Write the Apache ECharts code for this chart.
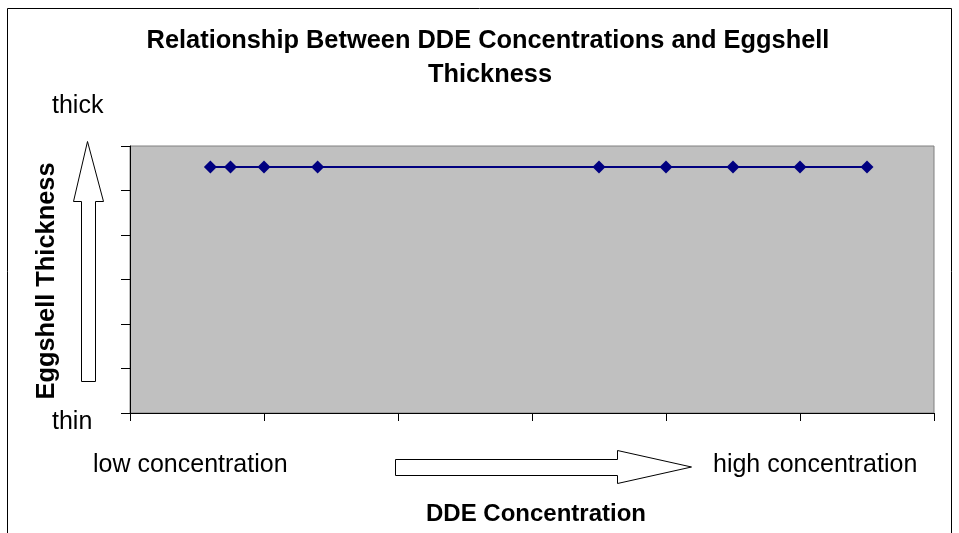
<!DOCTYPE html>
<html>
<head>
<meta charset="utf-8">
<script src="https://cdn.jsdelivr.net/npm/echarts@6/dist/echarts.min.js"></script>
<style>
html,body{margin:0;padding:0;background:#fff;}
#chart{width:959px;height:533px;}
</style>
</head>
<body>
<div id="chart"></div>
<script>
// Data
const concentration = [0.6, 0.75, 1, 1.4, 3.5, 4, 4.5, 5, 5.5];
const thickness = [5.53, 5.53, 5.53, 5.53, 5.53, 5.53, 5.53, 5.53, 5.53];
const titleLines = ['Relationship Between DDE Concentrations and Eggshell', 'Thickness'];
const yAxisName = 'Eggshell Thickness';
const xAxisName = 'DDE Concentration';
const yEndLabels = ['thick', 'thin'];
const xEndLabels = ['low concentration', 'high concentration'];

const FONT = "'Liberation Sans', Arial, sans-serif";
const chart = echarts.init(document.getElementById('chart'));

const pts = concentration.map((x, i) => [x, thickness[i]]);

chart.setOption({
  animation: false,
  backgroundColor: '#ffffff',
  grid: {
    left: 130, top: 146, width: 804, height: 267,
    show: true, backgroundColor: '#c0c0c0', borderColor: '#808080', borderWidth: 1
  },
  xAxis: {
    type: 'value', min: 0, max: 6, interval: 1,
    axisLine: { show: true, onZero: false, lineStyle: { color: '#000', width: 1 } },
    axisTick: { show: true, inside: false, length: 8, lineStyle: { color: '#000' } },
    axisLabel: { show: false },
    splitLine: { show: false }
  },
  yAxis: {
    type: 'value', min: 0, max: 6, interval: 1,
    axisLine: { show: true, onZero: false, lineStyle: { color: '#000', width: 1 } },
    axisTick: { show: true, inside: false, length: 9, lineStyle: { color: '#000' } },
    axisLabel: { show: false },
    splitLine: { show: false }
  },
  series: [{
    type: 'line',
    data: pts,
    symbol: 'diamond',
    symbolSize: 13,
    lineStyle: { color: '#000080', width: 2 },
    itemStyle: { color: '#000080' }
  }],
  graphic: [
    // outer frame
    { type: 'polyline', shape: { points: [[7.5, 540], [7.5, 8.5], [951.5, 8.5], [951.5, 540]] },
      style: { stroke: '#000', lineWidth: 1, fill: null } },
    { type: 'text', x: 488, y: 41, style: { text: titleLines[0], font: "bold 25.4px " + FONT, fill: '#000', align: 'center', verticalAlign: 'middle' } },
    { type: 'text', x: 490, y: 75, style: { text: titleLines[1], font: "bold 25.4px " + FONT, fill: '#000', align: 'center', verticalAlign: 'middle' } },
    { type: 'text', x: 52, y: 106, style: { text: yEndLabels[0], font: "25px " + FONT, fill: '#000', align: 'left', verticalAlign: 'middle' } },
    { type: 'text', x: 52, y: 422, style: { text: yEndLabels[1], font: "25px " + FONT, fill: '#000', align: 'left', verticalAlign: 'middle' } },
    { type: 'text', x: 47, y: 281, rotation: Math.PI / 2, style: { text: yAxisName, font: "bold 25.4px " + FONT, fill: '#000', align: 'center', verticalAlign: 'middle' } },
    { type: 'text', x: 93, y: 465, style: { text: xEndLabels[0], font: "25px " + FONT, fill: '#000', align: 'left', verticalAlign: 'middle' } },
    { type: 'text', x: 713, y: 465, style: { text: xEndLabels[1], font: "25px " + FONT, fill: '#000', align: 'left', verticalAlign: 'middle' } },
    { type: 'text', x: 536, y: 514, style: { text: xAxisName, font: "bold 24px " + FONT, fill: '#000', align: 'center', verticalAlign: 'middle' } },
    // up arrow
    { type: 'polygon', shape: { points: [[87.5, 141.5], [103.5, 201.5], [95.5, 201.5], [95.5, 381.5], [81.5, 381.5], [81.5, 201.5], [73.5, 201.5]] },
      style: { fill: '#fff', stroke: '#000', lineWidth: 1 } },
    // right arrow
    { type: 'polygon', shape: { points: [[395.5, 459.5], [617.5, 459.5], [617.5, 450.5], [691.5, 467], [617.5, 483.5], [617.5, 475.5], [395.5, 475.5]] },
      style: { fill: '#fff', stroke: '#000', lineWidth: 1 } }
  ]
});
</script>
</body>
</html>
